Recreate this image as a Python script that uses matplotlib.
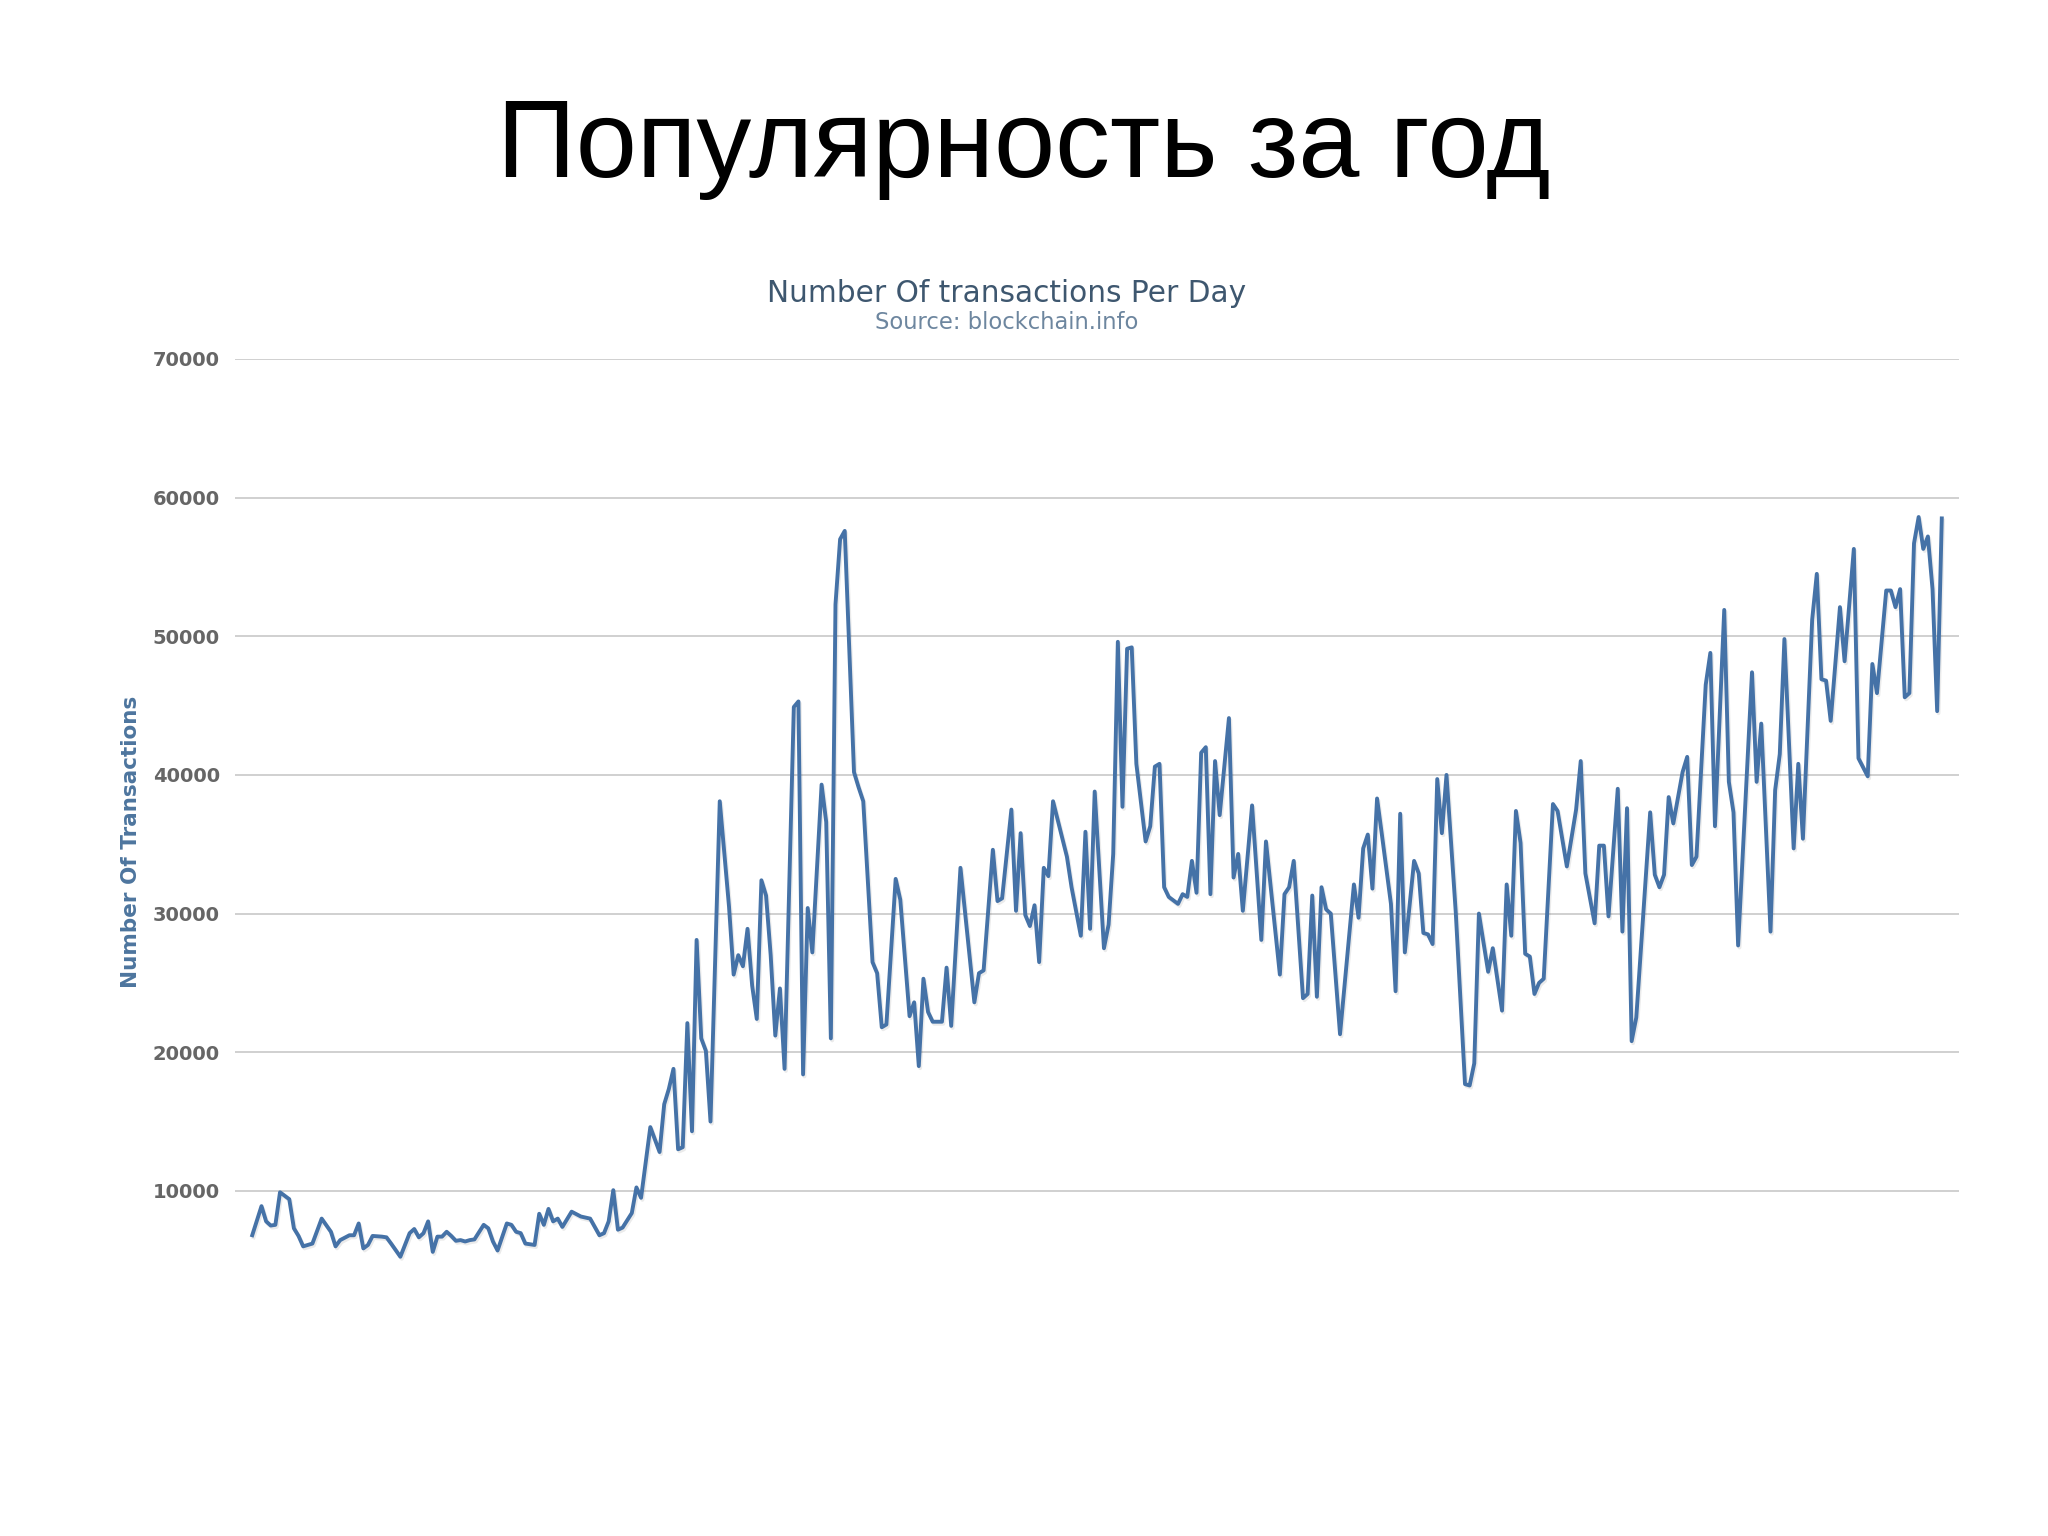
import matplotlib.pyplot as plt
import matplotlib.patheffects as pe

# day of the year and number of transactions
days = [0, 2, 3, 4, 5, 6, 8, 9, 10, 11, 13, 15, 17, 18, 19, 21, 22, 23, 24, 25,
        26, 28, 29, 30, 32, 34, 35, 36, 37, 38, 39, 40, 41, 42, 43, 44, 45, 46, 47, 48,
        50, 51, 52, 53, 55, 56, 57, 58, 59, 61, 62, 63, 64, 65, 66, 67, 69, 71, 73, 74,
        75, 76, 77, 78, 79, 80, 82, 83, 84, 86, 88, 89, 90, 91, 92, 93, 94, 95, 96, 97,
        98, 99, 101, 103, 104, 105, 106, 107, 108, 109, 110, 111, 112, 113, 114, 115, 117, 118, 119, 120,
        121, 123, 124, 125, 126, 127, 128, 130, 131, 132, 134, 135, 136, 137, 139, 140, 142, 143, 144, 145,
        146, 147, 149, 150, 151, 153, 156, 157, 158, 160, 161, 162, 164, 165, 166, 167, 168, 169, 170, 171,
        172, 173, 176, 177, 179, 180, 181, 182, 184, 185, 186, 187, 188, 189, 190, 191, 193, 194, 195, 196,
        197, 198, 200, 201, 202, 203, 204, 205, 206, 207, 208, 209, 211, 212, 213, 214, 216, 218, 219, 222,
        223, 224, 225, 227, 228, 229, 230, 231, 232, 233, 235, 238, 239, 240, 241, 242, 243, 244, 246, 247,
        248, 249, 251, 252, 253, 254, 255, 256, 257, 258, 260, 262, 263, 264, 265, 267, 268, 270, 271, 272,
        273, 274, 275, 276, 277, 278, 279, 281, 282, 284, 286, 287, 288, 290, 291, 292, 293, 295, 296, 297,
        298, 299, 302, 303, 304, 305, 306, 307, 309, 310, 311, 312, 314, 315, 316, 318, 319, 320, 321, 324,
        325, 326, 328, 329, 330, 331, 333, 334, 335, 337, 338, 339, 340, 341, 343, 344, 346, 347, 349, 350,
        351, 353, 354, 355, 356, 357, 358, 359, 360, 361, 362, 363, 364, 365]

transactions = [6800, 8900, 7800, 7500, 7550, 9900, 9400, 7300, 6750, 6000, 6200, 8000, 7050, 6000, 6450, 6800, 6800, 7650, 5850, 6100,
                6750, 6700, 6650, 6200, 5250, 6950, 7250, 6650, 6950, 7800, 5600, 6700, 6700, 7050, 6750, 6400, 6450, 6350, 6450, 6500,
                7550, 7300, 6350, 5700, 7650, 7550, 7050, 6950, 6200, 6100, 8350, 7550, 8700, 7800, 8000, 7400, 8500, 8150, 8000, 7400,
                6800, 6950, 7800, 10050, 7200, 7350, 8400, 10250, 9500, 14600, 12800, 16250, 17350, 18800, 13000, 13150, 22100, 14300, 28100, 21000,
                20100, 15000, 38100, 30500, 25600, 27000, 26200, 28900, 24800, 22400, 32400, 31300, 27000, 21200, 24600, 18800, 44900, 45300, 18400, 30400,
                27200, 39300, 36600, 21000, 52300, 57000, 57600, 40200, 39100, 38100, 26500, 25700, 21800, 22000, 32500, 31000, 22600, 23600, 19000, 25300,
                22900, 22200, 22200, 26100, 21900, 33300, 23600, 25700, 25900, 34600, 30900, 31100, 37500, 30200, 35800, 29900, 29100, 30600, 26500, 33300,
                32700, 38100, 34100, 31900, 28400, 35900, 28900, 38800, 27500, 29200, 34300, 49600, 37700, 49100, 49200, 40800, 35200, 36300, 40600, 40800,
                31900, 31200, 30700, 31400, 31200, 33800, 31500, 41600, 42000, 31400, 41000, 37100, 44100, 32600, 34300, 30200, 37800, 28100, 35200, 25600,
                31400, 31900, 33800, 23900, 24200, 31300, 24000, 31900, 30300, 30000, 21300, 32100, 29700, 34700, 35700, 31800, 38300, 35800, 30700, 24400,
                37200, 27200, 33800, 32900, 28600, 28500, 27800, 39700, 35800, 40000, 30100, 17700, 17600, 19200, 30000, 25800, 27500, 23000, 32100, 28400,
                37400, 35100, 27100, 26900, 24200, 25000, 25300, 37900, 37400, 33400, 37500, 41000, 32900, 29300, 34900, 34900, 29800, 39000, 28700, 37600,
                20800, 22500, 37300, 32800, 31900, 32800, 38400, 36500, 40200, 41300, 33500, 34100, 46500, 48800, 36300, 51900, 39500, 37300, 27700, 47400,
                39500, 43700, 28700, 38900, 41500, 49800, 34700, 40800, 35400, 51200, 54500, 46900, 46800, 43900, 52100, 48200, 56300, 41200, 39900, 48000,
                45900, 53300, 53300, 52100, 53400, 45600, 45900, 56700, 58600, 56300, 57200, 53400, 44600, 58500]

yticks = [10000, 20000, 30000, 40000, 50000, 60000, 70000]

fig = plt.figure(figsize=(20.48, 15.36), dpi=100)
fig.patch.set_facecolor('white')

# slide title
fig.text(0.5, 0.885, 'Популярность за год', ha='center', va='baseline',
         fontsize=79, family=['Liberation Sans', 'DejaVu Sans'], color='black')

# chart titles
fig.text(0.4917, 0.809, 'Number Of transactions Per Day', ha='center', va='center',
         fontsize=21.3, color='#3E576F', family='DejaVu Sans')
fig.text(0.4917, 0.790, 'Source: blockchain.info', ha='center', va='center',
         fontsize=16.3, color='#6D869F', family='DejaVu Sans')

ax = fig.add_axes([0.1148, 0.1615, 0.8417, 0.6048])
ax.set_facecolor('white')

ax.plot(days, transactions, color='#4572A7', lw=2.8, solid_joinstyle='round',
        path_effects=[pe.SimpleLineShadow(offset=(1, -1.5), shadow_color='#000000', alpha=0.08),
                      pe.Normal()], zorder=3)

ax.set_xlim(-3.7, 368.7)
ax.set_ylim(3000, 70000)
ax.set_yticks(yticks)
ax.set_yticklabels([str(v) for v in yticks])
ax.set_xticks([])
ax.grid(axis='y', color='#C8C8C8', lw=1.2, zorder=0)
ax.tick_params(axis='y', length=0, pad=11, labelsize=14, labelcolor='#666666')
for lbl in ax.get_yticklabels():
    lbl.set_fontweight('bold')
for s in ax.spines.values():
    s.set_visible(False)

ax.set_ylabel('Number Of Transactions', fontsize=15.5, fontweight='bold', color='#4D759E',
              family=['Liberation Sans Narrow', 'DejaVu Sans'])
ax.yaxis.set_label_coords(-0.0545, 0.48)

fig.savefig('out.png', dpi=100)
